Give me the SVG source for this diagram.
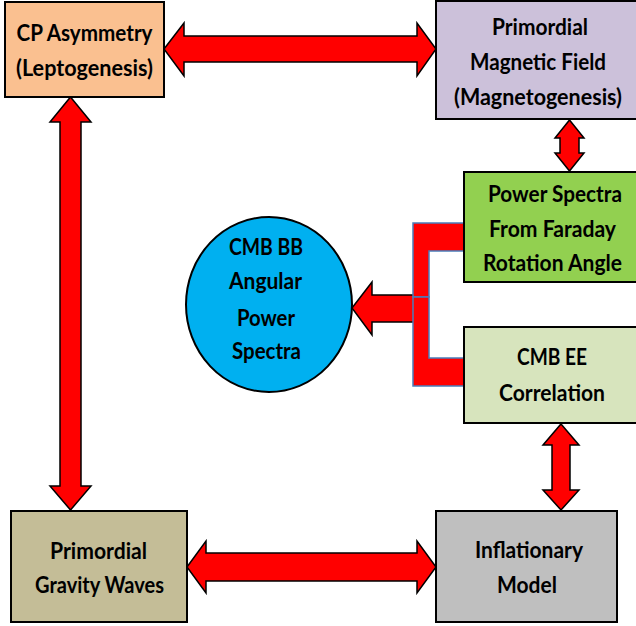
<svg xmlns="http://www.w3.org/2000/svg" width="636" height="626" viewBox="0 0 636 626">
<style>
.box{stroke:#000;stroke-width:2}
.arrow{fill:#FF0000;stroke:#000;stroke-width:1.5;stroke-linejoin:miter}
.bracket{fill:#FF0000;stroke:#4A7EBB;stroke-width:1.5}
text{font-family:Lato,"Liberation Sans",sans-serif;font-weight:bold;font-size:22px;fill:#000;text-anchor:middle}
</style>
<rect width="636" height="626" fill="#fff"/>
<g id="connectors">
<polygon class="arrow" points="164,49 184,23 184,36 417,36 417,23 436,49 417,76 417,62 184,62 184,76"/>
<polygon class="arrow" points="70.5,97 91,122 81,122 81,486 91,486 70.5,510 50,486 60,486 60,122 50,122"/>
<polygon class="arrow" points="569.5,120 584,138 579,138 579,153 584,153 569.5,171 555,153 560,153 560,138 555,138"/>
<polygon class="arrow" points="561,424 579,445 570,445 570,490 579,490 561,510 543,490 552,490 552,445 543,445"/>
<polygon class="arrow" points="187,567 206,541 206,553 417,553 417,541 436,567 417,593 417,581 206,581 206,593"/>
<polygon class="arrow" points="352,308 372,282 372,295 414,295 414,322 372,322 372,335"/>
<polygon class="bracket" points="413,223 464,223 464,251 429,251 429,297 413,297"/>
<polygon class="bracket" points="413,297 429,297 429,358 464,358 464,386 413,386"/>
</g>
<g id="cp-asymmetry">
<rect class="box" x="5" y="2" width="159" height="95" fill="#FAC090"/>
<text x="84.5" y="41" textLength="136" lengthAdjust="spacingAndGlyphs">CP Asymmetry</text>
<text x="84.5" y="76" textLength="137" lengthAdjust="spacingAndGlyphs">(Leptogenesis)</text>
</g>
<g id="magnetic-field">
<rect class="box" x="436" y="1" width="204" height="118" fill="#CCC1DA"/>
<text x="540" y="35" textLength="96" lengthAdjust="spacingAndGlyphs">Primordial</text>
<text x="538" y="70" textLength="136" lengthAdjust="spacingAndGlyphs">Magnetic Field</text>
<text x="538" y="105" textLength="168" lengthAdjust="spacingAndGlyphs">(Magnetogenesis)</text>
</g>
<g id="faraday">
<rect class="box" x="464" y="172" width="176" height="110" fill="#92D050"/>
<text x="555" y="202" textLength="134" lengthAdjust="spacingAndGlyphs">Power Spectra</text>
<text x="552.5" y="237" textLength="127" lengthAdjust="spacingAndGlyphs">From Faraday</text>
<text x="552.5" y="271" textLength="139" lengthAdjust="spacingAndGlyphs">Rotation Angle</text>
</g>
<g id="cmb-ee">
<rect class="box" x="464" y="327" width="176" height="96" fill="#D7E4BD"/>
<text x="552" y="365" textLength="70" lengthAdjust="spacingAndGlyphs">CMB EE</text>
<text x="552" y="401" textLength="106" lengthAdjust="spacingAndGlyphs">Correlation</text>
</g>
<g id="cmb-bb">
<ellipse cx="269" cy="304.5" rx="83" ry="87.5" fill="#00B0F0" stroke="#000" stroke-width="2"/>
<text x="266" y="255" textLength="74" lengthAdjust="spacingAndGlyphs">CMB BB</text>
<text x="265.5" y="289" textLength="73" lengthAdjust="spacingAndGlyphs">Angular</text>
<text x="266" y="326" textLength="58" lengthAdjust="spacingAndGlyphs">Power</text>
<text x="266.5" y="359" textLength="69" lengthAdjust="spacingAndGlyphs">Spectra</text>
</g>
<g id="gravity-waves">
<rect class="box" x="11" y="511" width="176" height="111" fill="#C4BD97"/>
<text x="98.5" y="559" textLength="97" lengthAdjust="spacingAndGlyphs">Primordial</text>
<text x="99.5" y="593" textLength="129" lengthAdjust="spacingAndGlyphs">Gravity Waves</text>
</g>
<g id="inflationary">
<rect class="box" x="436" y="511" width="181" height="111" fill="#BFBFBF"/>
<text x="529" y="558" textLength="108" lengthAdjust="spacingAndGlyphs">Inflationary</text>
<text x="527" y="593" textLength="60" lengthAdjust="spacingAndGlyphs">Model</text>
</g>
</svg>
